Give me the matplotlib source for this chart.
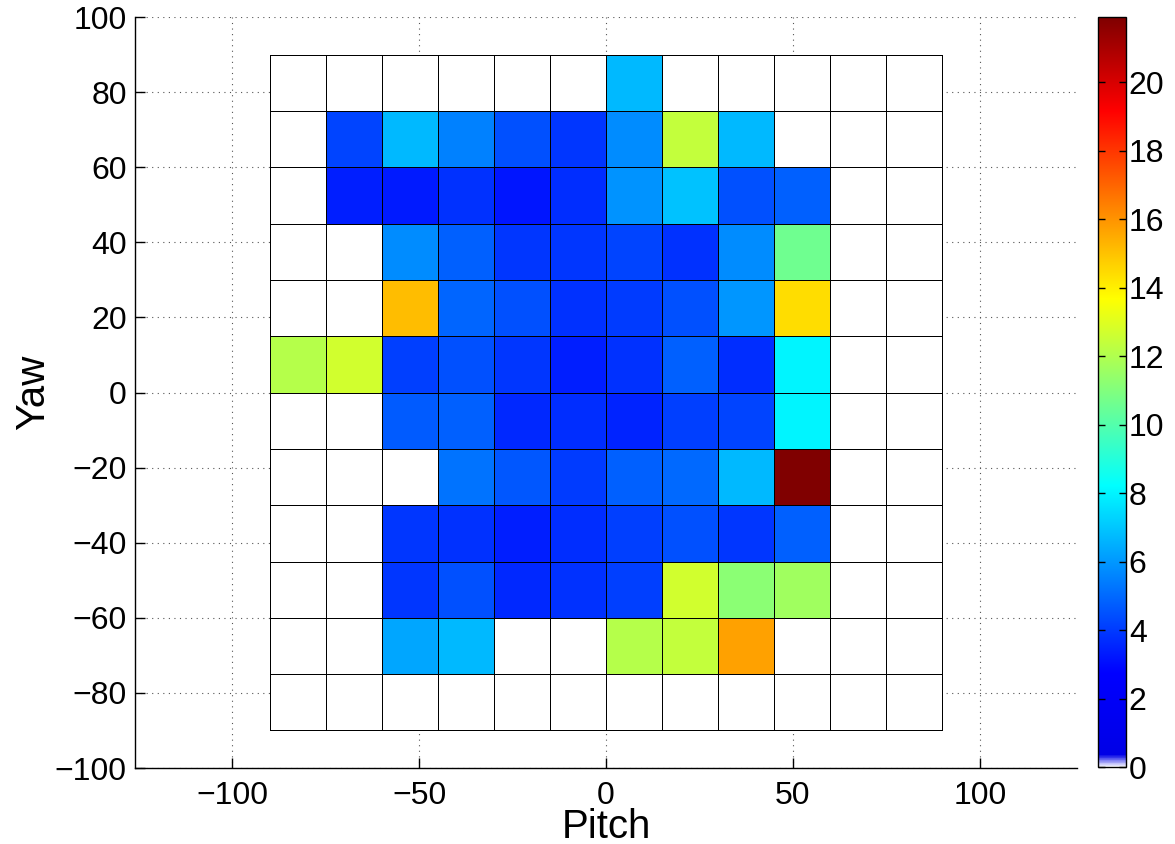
import numpy as np
import matplotlib
matplotlib.use("Agg")
import matplotlib.pyplot as plt
from matplotlib.colors import LinearSegmentedColormap

plt.rcParams['font.family'] = ['Liberation Sans', 'DejaVu Sans']

# Bin edges (degrees)
pitch_edges = np.arange(-90, 91, 15)
yaw_edges = np.arange(-90, 91, 15)

# Cell values, rows listed from the top yaw bin (75..90) down to (-90..-75),
# columns from pitch -90 to 90
row_yaw_75 = [0, 0, 0, 0, 0, 0, 6.7, 0, 0, 0, 0, 0]
row_yaw_60 = [0, 4.2, 6.7, 5.5, 4.45, 3.9, 5.75, 12.4, 6.7, 0, 0, 0]
row_yaw_45 = [0, 3.4, 3.3, 3.8, 3.2, 3.7, 5.9, 6.9, 4.45, 4.8, 0, 0]
row_yaw_30 = [0, 0, 5.75, 4.8, 3.9, 3.9, 4.2, 3.8, 5.75, 10.6, 0, 0]
row_yaw_15 = [0, 0, 15.1, 4.9, 4.45, 3.8, 4.0, 4.45, 5.95, 14.4, 0, 0]
row_yaw_0 = [12.1, 12.7, 4.1, 4.45, 3.9, 3.4, 3.8, 4.8, 3.7, 8.0, 0, 0]
row_yaw_m15 = [0, 0, 4.7, 4.8, 3.6, 3.7, 3.5, 4.1, 4.2, 8.0, 0, 0]
row_yaw_m30 = [0, 0, 0, 5.2, 4.6, 4.0, 4.8, 5.0, 6.7, 21.9, 0, 0]
row_yaw_m45 = [0, 0, 3.9, 3.8, 3.4, 3.7, 4.1, 4.45, 3.9, 4.8, 0, 0]
row_yaw_m60 = [0, 0, 3.9, 4.45, 3.6, 3.8, 4.1, 12.7, 11.2, 11.65, 0, 0]
row_yaw_m75 = [0, 0, 6.3, 6.7, 0, 0, 12.1, 12.4, 15.7, 0, 0, 0]
row_yaw_m90 = [0, 0, 0, 0, 0, 0, 0, 0, 0, 0, 0, 0]

rows_top_down = [row_yaw_75, row_yaw_60, row_yaw_45, row_yaw_30, row_yaw_15,
                 row_yaw_0, row_yaw_m15, row_yaw_m30, row_yaw_m45, row_yaw_m60,
                 row_yaw_m75, row_yaw_m90]
values = np.array(rows_top_down[::-1])

x_ticks = [-100, -50, 0, 50, 100]
y_ticks = list(range(-100, 101, 20))
cbar_ticks = list(range(0, 21, 2))


def classic_jet(f):
    r = np.clip(1.5 - abs(4 * f - 3), 0, 1)
    g = np.clip(1.5 - abs(4 * f - 2), 0, 1)
    b = np.clip(1.5 - abs(4 * f - 1), 0, 1)
    return (float(r), float(g), float(b))


# jet colormap whose lowest end fades to white
stops = [(0.0, (1, 1, 1)), (0.016, (0, 0, 0.9)), (0.125, (0, 0, 1.0))]
for f in np.linspace(0.13, 1.0, 175):
    stops.append((f, classic_jet(f)))
cmap = LinearSegmentedColormap.from_list('jet_white', stops, N=1024)

fig = plt.figure(figsize=(11.75, 8.44), dpi=100)
ax = fig.add_axes([0.1149, 0.090, 0.8017, 0.8898])
cax = fig.add_axes([0.9345, 0.0912, 0.0238, 0.8886])

vmax = values.max()
mesh = ax.pcolormesh(pitch_edges, yaw_edges, values, cmap=cmap, vmin=0, vmax=vmax,
                     edgecolors='black', linewidth=0.7, zorder=2)

ax.set_xlim(-126, 126)
ax.set_ylim(-100, 100)
ax.set_xticks(x_ticks)
ax.set_yticks(y_ticks)
ax.set_axisbelow(True)
ax.grid(True, linestyle=(0, (1, 4)), color='#555555', linewidth=0.8, zorder=0)
for side in ('top', 'right'):
    ax.spines[side].set_visible(False)
for side in ('left', 'bottom'):
    ax.spines[side].set_linewidth(1.0)
ax.tick_params(direction='in', length=7, width=1.0, labelsize=23, pad=6)
ax.tick_params(axis='x', pad=9)
ax.set_xlabel('Pitch', fontsize=29, labelpad=-2)
ax.set_ylabel('Yaw', fontsize=29, labelpad=2)

cb = fig.colorbar(mesh, cax=cax, ticks=cbar_ticks)
cb.outline.set_linewidth(1.0)
cax.tick_params(direction='in', length=5, width=1.0, labelsize=23, pad=2,
                left=True, right=True)

fig.savefig('out.png', dpi=100)
